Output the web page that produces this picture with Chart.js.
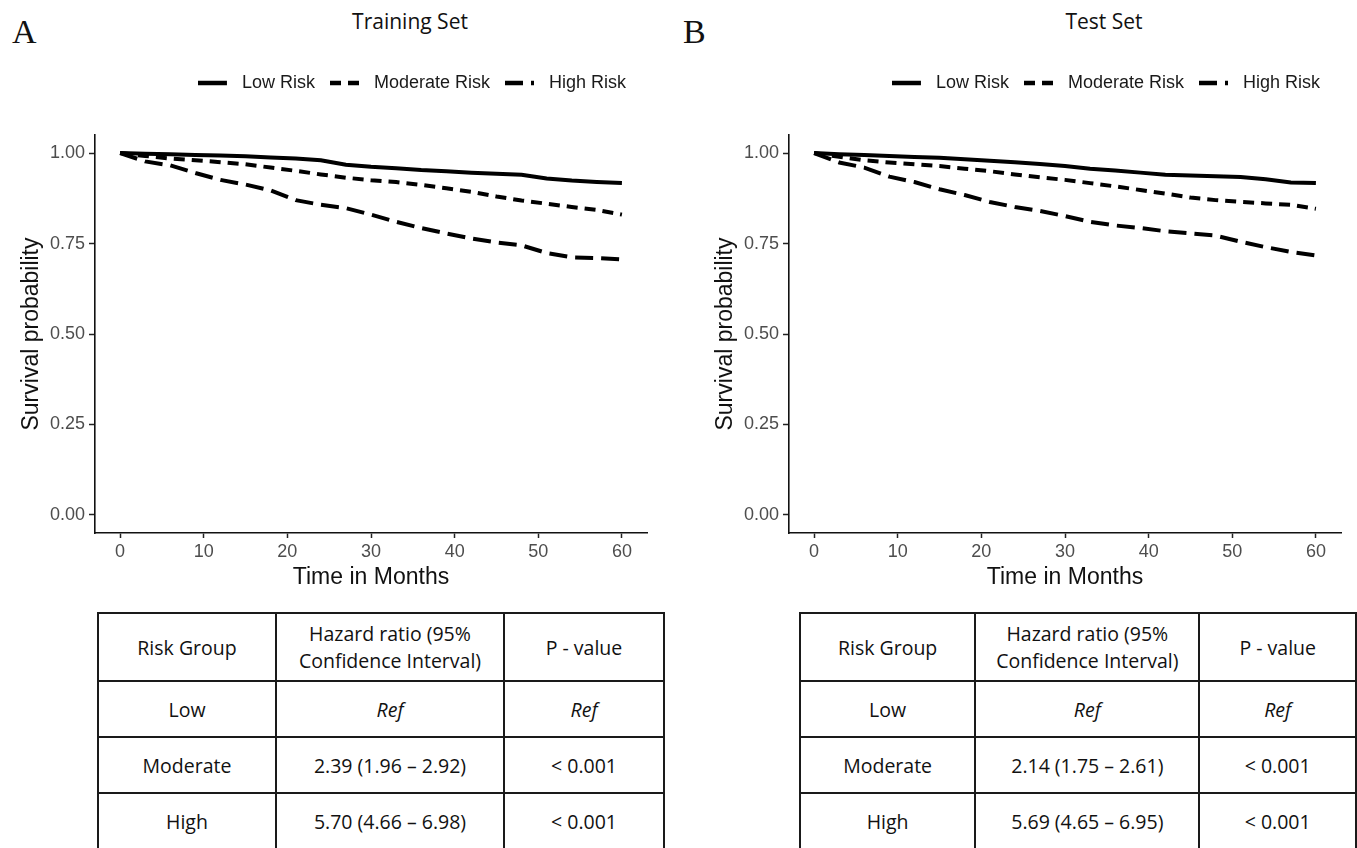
<!DOCTYPE html>
<html lang="en">
<head>
<meta charset="utf-8">
<title>Survival by risk group</title>
<script src="https://cdn.jsdelivr.net/npm/chart.js@4.4.0/dist/chart.umd.min.js"></script>
<style>
  html, body { margin: 0; padding: 0; background: #fff; width: 1357px; height: 848px; overflow: hidden; position: relative; }
  .letter { position: absolute; top: 15px; font-family: "Liberation Serif", serif; font-size: 34px; color: #111; line-height: 1; }
  .ptitle { position: absolute; top: 7px; font-family: "Open Sans", sans-serif; font-size: 21px; color: #111; transform: translateX(-50%); white-space: nowrap; }
  .plot { position: absolute; top: 50px; width: 680px; height: 550px; }
  table.hr { position: absolute; top: 612px; border-collapse: collapse; table-layout: fixed;
             font-family: "Open Sans", sans-serif; font-size: 19.5px; color: #111; }
  table.hr td { border: 2px solid #1a1a1a; text-align: center; padding: 0; line-height: 27px; }
  table.hr tr.head td { height: 66px; }
  table.hr tr.body td { height: 54px; }
  table.hr em { font-style: italic; }
</style>
</head>
<body>
<div class="letter" style="left:12px">A</div>
<div class="ptitle" style="left:410px">Training Set</div>
<div class="plot" style="left:0px"><canvas id="chartTrain"></canvas></div>
<table class="hr" id="tableTrain" style="left:97px"></table>

<div class="letter" style="left:683px">B</div>
<div class="ptitle" style="left:1104px">Test Set</div>
<div class="plot" style="left:694px"><canvas id="chartTest"></canvas></div>
<table class="hr" id="tableTest" style="left:799px"></table>

<script>
const months = [0, 3, 6, 9, 12, 15, 18, 21, 24, 27, 30, 33, 36, 39, 42, 45, 48, 51, 54, 57, 60];

// training set survival probability
const trainLow = [1.000, 0.998, 0.997, 0.995, 0.993, 0.991, 0.988, 0.985, 0.980, 0.968, 0.962, 0.958, 0.953, 0.950, 0.946, 0.943, 0.940, 0.930, 0.924, 0.920, 0.917];
const trainModerate = [1.000, 0.992, 0.985, 0.980, 0.975, 0.969, 0.960, 0.951, 0.941, 0.932, 0.925, 0.920, 0.912, 0.903, 0.893, 0.880, 0.869, 0.860, 0.851, 0.843, 0.830];
const trainHigh = [1.000, 0.977, 0.966, 0.945, 0.926, 0.913, 0.897, 0.870, 0.857, 0.848, 0.830, 0.810, 0.793, 0.778, 0.764, 0.753, 0.745, 0.724, 0.712, 0.710, 0.706];

// test set survival probability
const testLow = [1.000, 0.997, 0.995, 0.992, 0.989, 0.987, 0.983, 0.979, 0.975, 0.970, 0.964, 0.957, 0.952, 0.946, 0.940, 0.938, 0.936, 0.934, 0.928, 0.919, 0.917];
const testModerate = [1.000, 0.990, 0.980, 0.974, 0.969, 0.964, 0.957, 0.950, 0.941, 0.933, 0.926, 0.917, 0.908, 0.898, 0.888, 0.877, 0.870, 0.865, 0.861, 0.857, 0.846];
const testHigh = [1.000, 0.974, 0.960, 0.935, 0.920, 0.900, 0.884, 0.865, 0.851, 0.840, 0.826, 0.810, 0.800, 0.793, 0.784, 0.778, 0.772, 0.755, 0.740, 0.727, 0.717];

const seriesNames = ['Low Risk', 'Moderate Risk', 'High Risk'];
const xTicks = [0, 10, 20, 30, 40, 50, 60];
const yTicks = [0, 0.25, 0.5, 0.75, 1];

// hazard ratio tables
const tableHeader = ['Risk Group', 'Hazard ratio (95%<br>Confidence Interval)', 'P - value'];
const riskGroups = ['Low', 'Moderate', 'High'];
const trainHR = ['<em>Ref</em>', '2.39 (1.96 – 2.92)', '5.70 (4.66 – 6.98)'];
const trainP = ['<em>Ref</em>', '&lt; 0.001', '&lt; 0.001'];
const testHR = ['<em>Ref</em>', '2.14 (1.75 – 2.61)', '5.69 (4.65 – 6.95)'];
const testP = ['<em>Ref</em>', '&lt; 0.001', '&lt; 0.001'];
const colWidths = [178, 228, 160];

const dashes = [[], [11, 7], [18, 8]];
const tickFont = { family: 'Liberation Sans', size: 18 };
const titleFont = { family: 'Liberation Sans', size: 23 };

// little line samples for the legend (line 29px, then blank space before the text)
function legendSample(dash) {
  const c = document.createElement('canvas');
  c.width = 35;
  c.height = 8;
  const g = c.getContext('2d');
  g.strokeStyle = '#000';
  g.lineWidth = 4.5;
  g.setLineDash(dash);
  g.beginPath();
  g.moveTo(0, 4);
  g.lineTo(29, 4);
  g.stroke();
  return c;
}
const samples = dashes.map(legendSample);

// pushes the plot down below the legend and nudges the legend left
const legendGap = {
  id: 'legendGap',
  beforeInit(chart) {
    const fit = chart.legend.fit;
    chart.legend.fit = function () {
      fit.call(this);
      this.height += 33;
    };
  },
  afterLayout(chart) {
    chart.legend.left -= 6;
    chart.legend.right -= 6;
  }
};

function drawKM(id, low, moderate, high) {
  const values = [low, moderate, high];
  const ctx = document.getElementById(id).getContext('2d');
  return new Chart(ctx, {
    type: 'line',
    data: {
      datasets: values.map((v, i) => ({
        label: seriesNames[i],
        data: months.map((m, j) => ({ x: m, y: v[j] })),
        borderColor: '#000',
        borderWidth: 4,
        borderDash: dashes[i],
        pointRadius: 0,
        fill: false,
        tension: 0
      }))
    },
    options: {
      responsive: true,
      maintainAspectRatio: false,
      animation: false,
      layout: { padding: { top: 9, right: 33, left: 0, bottom: 0 } },
      plugins: {
        tooltip: { enabled: false },
        legend: {
          position: 'top',
          align: 'end',
          labels: {
            usePointStyle: true,
            pointStyleWidth: 35,
            padding: 15,
            color: '#1a1a1a',
            font: { family: 'Liberation Sans', size: 18 },
            generateLabels(chart) {
              const items = Chart.defaults.plugins.legend.labels.generateLabels(chart);
              items.forEach((it, i) => { it.pointStyle = samples[i]; });
              return items;
            }
          }
        }
      },
      scales: {
        x: {
          type: 'linear',
          min: -3,
          max: 63,
          afterBuildTicks(s) { s.ticks = xTicks.map(v => ({ value: v })); },
          afterFit(s) { s.height = 67; },
          grid: { drawOnChartArea: false, drawTicks: true, tickLength: 5, tickWidth: 1.5, color: '#222' },
          border: { display: true, color: '#111', width: 1.6 },
          ticks: { color: '#4d4d4d', font: tickFont, padding: 3, maxRotation: 0 },
          title: { display: true, text: 'Time in Months', color: '#111', font: titleFont, padding: { top: 0, bottom: 9 } }
        },
        y: {
          min: -0.05,
          max: 1.05,
          afterBuildTicks(s) { s.ticks = yTicks.map(v => ({ value: v })); },
          afterFit(s) { s.width = 95; },
          grid: { drawOnChartArea: false, drawTicks: true, tickLength: 6, tickWidth: 1.5, color: '#222' },
          border: { display: true, color: '#111', width: 1.6 },
          ticks: { color: '#4d4d4d', font: tickFont, padding: 4, callback: v => v.toFixed(2) },
          title: { display: true, text: 'Survival probability', color: '#111', font: titleFont, padding: { top: 18, bottom: 0 } }
        }
      }
    },
    plugins: [legendGap]
  });
}

function buildTable(id, hr, p) {
  const t = document.getElementById(id);
  let html = '<colgroup>' + colWidths.map(w => '<col style="width:' + w + 'px">').join('') + '</colgroup>';
  html += '<tr class="head">' + tableHeader.map(h => '<td>' + h + '</td>').join('') + '</tr>';
  riskGroups.forEach((g, i) => {
    html += '<tr class="body"><td>' + g + '</td><td>' + hr[i] + '</td><td>' + p[i] + '</td></tr>';
  });
  t.innerHTML = html;
}

drawKM('chartTrain', trainLow, trainModerate, trainHigh);
drawKM('chartTest', testLow, testModerate, testHigh);
buildTable('tableTrain', trainHR, trainP);
buildTable('tableTest', testHR, testP);
</script>
</body>
</html>
